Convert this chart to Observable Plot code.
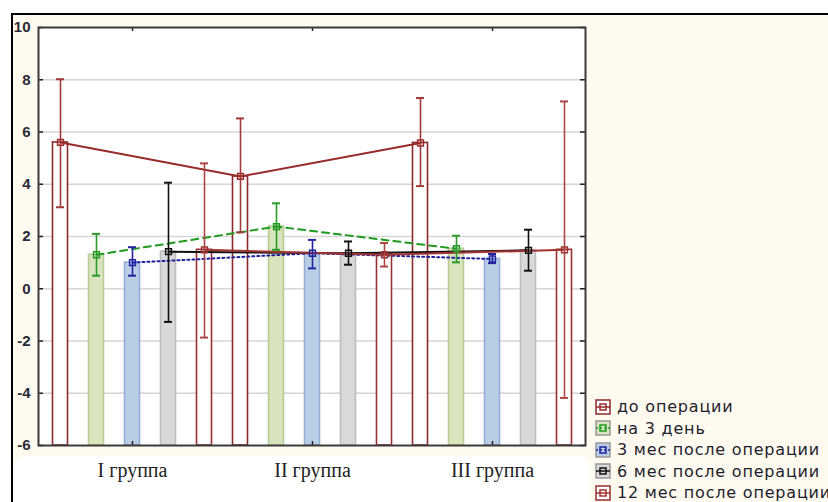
<!DOCTYPE html>
<html><head><meta charset="utf-8">
<script src="https://cdn.jsdelivr.net/npm/d3@7"></script>
<script src="https://cdn.jsdelivr.net/npm/@observablehq/plot@0.6"></script>
<style>
html,body{margin:0;padding:0;width:828px;height:502px;overflow:hidden;background:#fff;}
#bg{position:absolute;left:11px;top:13px;right:0;bottom:0;background:#fffaef;border-top:2px solid #000;border-left:2px solid #000;}
#wb{position:absolute;left:13px;top:456px;width:576px;bottom:0;background:#fff;border-radius:14px 10px 0 0;}
#chart{position:absolute;left:0;top:0;}
#legend{position:absolute;left:595px;top:396px;font-family:"DejaVu Sans",sans-serif;font-size:16px;letter-spacing:0.8px;color:#1e1e2e;white-space:nowrap;}
#legend .row{height:21.5px;line-height:21.5px;display:flex;align-items:center;}
#legend svg{margin-right:6px;flex:none;}
</style>
</head><body>
<div id="bg"></div>
<div id="wb"></div>
<div id="chart"></div>
<div id="legend"></div>
<script>
// ---- data ----
const groups = ["I группа", "II группа", "III группа"];
const series = ["до операции", "на 3 день", "3 мес после операции", "6 мес после операции", "12 мес после операции"];
// means per series (rows) for each group (columns)
const means = [
  [5.6, 4.3, 5.58],
  [1.3, 2.38, 1.53],
  [1.0, 1.36, 1.14],
  [1.42, 1.36, 1.47],
  [1.49, 1.3, 1.49]
];
const lows = [
  [3.12, 2.16, 3.93],
  [0.5, 1.49, 1.01],
  [0.5, 0.78, 0.98],
  [-1.27, 0.92, 0.69],
  [-1.87, 0.85, -4.18]
];
const highs = [
  [8.02, 6.52, 7.3],
  [2.1, 3.27, 2.03],
  [1.59, 1.87, 1.33],
  [4.06, 1.81, 2.26],
  [4.8, 1.75, 7.17]
];
const yTicks = [-6, -4, -2, 0, 2, 4, 6, 8, 10];

// ---- styles ----
const barFill   = ["#ffffff", "#d7e4bd", "#b9cde5", "#d9d9d9", "#ffffff"];
const barStroke = ["#8a2a2a", "#b9cc96", "#93b0d4", "#bdbdbd", "#9a3030"];
const lineColor = ["#9a2b2b", "#1f9a1f", "#2020a0", "#111111", "#a33333"];
const errColor  = ["#a33a3a", "#2a9a2a", "#2424a0", "#111111", "#b04545"];
const dash      = [null, "7,5", "2,3", null, null];

const rows = [];
groups.forEach((g, gi) => series.forEach((s, si) => rows.push({
  g, s, si, key: g + "|" + s, mean: means[si][gi], lo: lows[si][gi], hi: highs[si][gi]
})));
const keys = rows.map(d => d.key);
const midKeys = groups.map(g => g + "|" + series[2]);

const W = 828, H = 502, mL = 38, mR = 243, mT = 27, mB = 57;
const pW = W - mL - mR, pH = H - mT - mB;

const marks = [
  Plot.frame({fill: "white"}),
  Plot.gridY(yTicks.filter(v => v > -6 && v < 10), {stroke: "#d6d6d6", strokeOpacity: 1, strokeWidth: 1.5})
];
series.forEach((s, si) => {
  const d = rows.filter(r => r.si === si);
  marks.push(Plot.barY(d, {x: "key", y1: () => yTicks[0], y2: "mean", fill: barFill[si], stroke: barStroke[si], strokeWidth: 1.6, insetLeft: 10.5, insetRight: 10.5}));
});
[0, 1, 2, 3, 4].forEach(si => {
  const d = rows.filter(r => r.si === si);
  marks.push(Plot.line(d, {x: "key", y: "mean", stroke: lineColor[si], strokeWidth: 2, strokeDasharray: dash[si]}));
});
series.forEach((s, si) => {
  const d = rows.filter(r => r.si === si);
  marks.push(
    Plot.ruleX(d, {x: "key", y1: "lo", y2: "hi", stroke: errColor[si], strokeWidth: 1.6}),
    Plot.tickY(d, {x: "key", y: "lo", stroke: errColor[si], strokeWidth: 2, insetLeft: 14, insetRight: 14}),
    Plot.tickY(d, {x: "key", y: "hi", stroke: errColor[si], strokeWidth: 2, insetLeft: 14, insetRight: 14}),
    Plot.dot(d, {x: "key", y: "mean", symbol: "square", r: 3.3, stroke: lineColor[si], strokeWidth: 1.5, fill: "none"})
  );
});
marks.push(
  Plot.tickY(yTicks, {y: d => d, insetRight: pW - 5, stroke: "#222", strokeWidth: 1.5}),
  Plot.tickY(yTicks, {y: d => d, insetLeft: pW - 5, stroke: "#222", strokeWidth: 1.5}),
  Plot.tickX(midKeys, {x: d => d, insetTop: pH - 4, stroke: "#222", strokeWidth: 1.5}),
  Plot.tickX(midKeys, {x: d => d, insetBottom: pH - 4, stroke: "#222", strokeWidth: 1.5}),
  Plot.axisY(yTicks, {anchor: "left", tickSize: 0, tickPadding: 8, label: null, tickFormat: d => String(d), fontSize: 15, fontWeight: "bold", fill: "#2a2a36", fontFamily: "Liberation Sans, Arial, sans-serif"}),
  Plot.axisX(midKeys, {anchor: "bottom", tickSize: 0, tickPadding: 17, label: null, tickFormat: k => k.split("|")[0], fontSize: 20, fontFamily: "Liberation Serif, Times New Roman, serif", fill: "#222"}),
  Plot.frame({stroke: "#3a3a3a", strokeWidth: 2})
);

const chart = Plot.plot({
  width: W, height: H,
  marginLeft: mL, marginRight: mR, marginTop: mT, marginBottom: mB,
  style: {background: "transparent", overflow: "visible"},
  x: {type: "band", domain: keys, padding: 0, axis: null},
  y: {domain: [yTicks[0], yTicks[yTicks.length - 1]], axis: null},
  marks
});
document.getElementById("chart").appendChild(chart);

// ---- legend ----
const leg = document.getElementById("legend");
series.forEach((s, si) => {
  const row = document.createElement("div");
  row.className = "row";
  const ns = "http://www.w3.org/2000/svg";
  const sv = document.createElementNS(ns, "svg");
  sv.setAttribute("width", 16); sv.setAttribute("height", 16);
  sv.innerHTML =
    `<rect x="1" y="1" width="14" height="14" fill="${barFill[si]}" stroke="${si === 0 || si === 4 ? barStroke[si] : "#999"}" stroke-width="1.5"/>` +
    `<line x1="1" y1="8" x2="15" y2="8" stroke="${lineColor[si]}" stroke-width="1.5" ${dash[si] ? 'stroke-dasharray="2,2"' : ''}/>` +
    `<rect x="5" y="5" width="6" height="6" fill="none" stroke="${lineColor[si]}" stroke-width="1.5"/>`;
  row.appendChild(sv);
  const t = document.createElement("span");
  t.textContent = s;
  row.appendChild(t);
  leg.appendChild(row);
});
</script>
</body></html>
